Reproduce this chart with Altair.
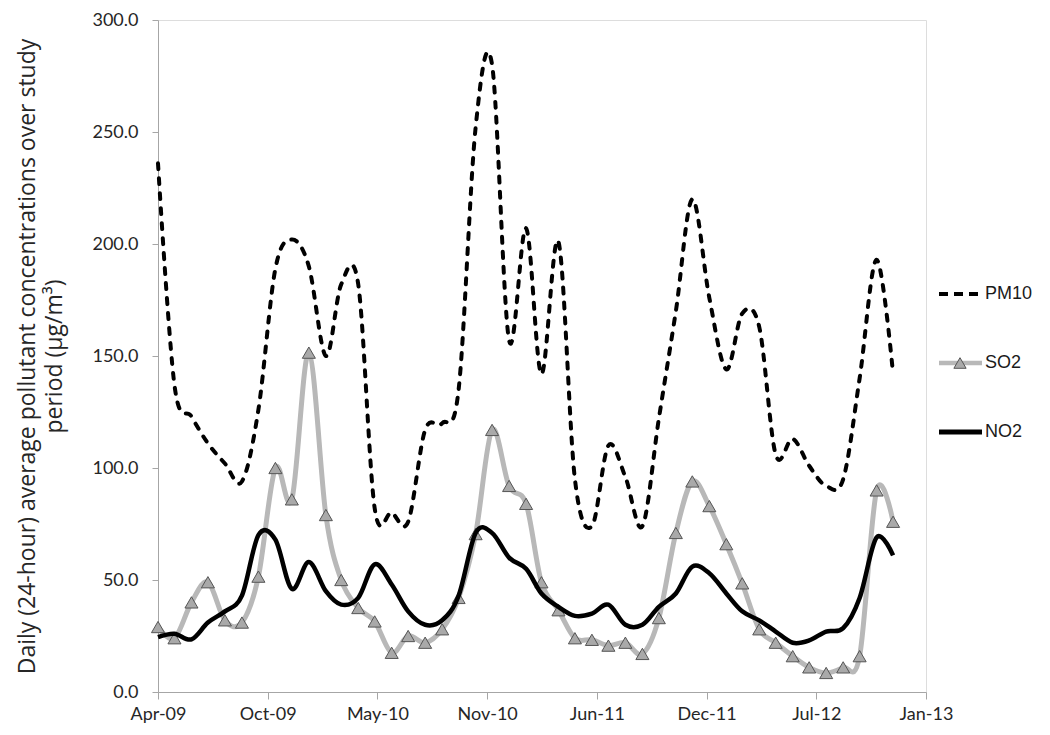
import altair as alt
import pandas as pd

# ---- data (monthly, Apr-2009 .. Dec-2012) ----
start_month = "2009-04-01"
n_months = 45
series_names = ["PM10", "SO2", "NO2"]

pm10 = [236, 137, 123, 111, 102, 94, 126, 189, 202, 190,
        150, 182, 182, 82, 80, 76, 117, 120, 135, 252,
        280, 157, 207, 142, 201, 95, 74, 110, 96, 74,
        122, 170, 220, 176, 144, 169, 163, 106, 113, 101,
        92, 95, 140, 193, 142]
so2 = [29, 24, 40, 49, 32, 31, 51.5, 100, 86, 151.5,
       79, 50, 37.5, 31.5, 17.5, 25, 22, 28, 42, 70.5,
       117, 92, 84, 49, 36.5, 24, 23.3, 20.7, 22, 17,
       33, 71, 94, 83, 66, 48.5, 28, 22, 16, 11,
       8.5, 11, 16, 90, 76]
no2 = [24.5, 26, 23.5, 31, 36, 43, 70, 68, 46, 58,
       45, 39, 42, 57, 48, 36, 30, 32, 43, 71,
       71, 60, 55, 44, 38, 34, 35, 39, 30, 30,
       38, 44, 56, 53, 44, 36, 32, 27, 22, 23,
       27, 28.5, 42, 69, 61]

y_ticks = [0, 50, 100, 150, 200, 250, 300]
tick_step_days = 200
n_x_ticks = 8

# ---- tables ----
months = pd.date_range(start_month, periods=n_months, freq="MS")
df = pd.DataFrame({"date": months.strftime("%Y-%m-%d"),
                   "PM10": pm10, "SO2": so2, "NO2": no2})
long = df.melt("date", var_name="series", value_name="value")

tick_dates = pd.date_range(start_month, periods=n_x_ticks, freq=f"{tick_step_days}D")
tick_ms = [int(t.value // 10**6) for t in tick_dates]

W, H = 768, 672
label_font = "Lato"

x_enc = alt.X(
    "date:T",
    scale=alt.Scale(type="utc", domain=[tick_ms[0], tick_ms[-1]]),
    axis=alt.Axis(values=tick_ms, format="%b-%y", title=None, grid=False,
                  domainColor="#a6a6a6", tickColor="#a6a6a6", tickSize=7,
                  labelPadding=6, labelFont=label_font, labelFontSize=18,
                  labelColor="#262626", labelFlush=False),
)
y_enc = alt.Y(
    "value:Q",
    scale=alt.Scale(domain=[0, 300], nice=False),
    axis=alt.Axis(values=y_ticks, format=".1f", grid=False,
                  title=["Daily (24-hour) average pollutant concentrations over study",
                         "period  (µg/m³)"],
                  titleFont="Open Sans", titleFontSize=23, titleFontWeight="normal",
                  titleColor="#262626", titleLineHeight=27, titlePadding=25,
                  domainColor="#a6a6a6", tickColor="#a6a6a6", tickSize=6,
                  labelPadding=14, labelFont=label_font, labelFontSize=18,
                  labelColor="#262626"),
)

base = alt.Chart(long).encode(x=x_enc, y=y_enc)

pm_line = base.transform_filter(alt.datum.series == "PM10").mark_line(
    color="black", strokeWidth=4, strokeDash=[6, 9], strokeCap="round",
    interpolate="cardinal")
so2_line = base.transform_filter(alt.datum.series == "SO2").mark_line(
    color="#b8b8b8", strokeWidth=5, interpolate="cardinal")
so2_pts = base.transform_filter(alt.datum.series == "SO2").mark_point(
    shape="triangle-up", filled=True, fill="#a9a9a9", stroke="#555555",
    strokeWidth=1, size=170, opacity=1)
no2_line = base.transform_filter(alt.datum.series == "NO2").mark_line(
    color="black", strokeWidth=4.5, interpolate="cardinal")

main = alt.layer(pm_line, so2_line, so2_pts, no2_line)

# ---- legend (drawn as a small layer to the right of the plot) ----
leg_df = pd.DataFrame({"series": series_names})
leg_y = alt.Y("series:N", sort=series_names,
              scale=alt.Scale(type="point", domain=series_names, range=[274, 412], padding=0),
              axis=None)
leg_base = alt.Chart(leg_df).encode(y=leg_y)
leg_rule = leg_base.mark_rule(strokeCap="butt").encode(
    x=alt.value(W + 13), x2=alt.value(W + 56),
    color=alt.Color("series:N", scale=alt.Scale(domain=series_names,
                                                range=["black", "#b8b8b8", "black"]), legend=None),
    strokeDash=alt.StrokeDash("series:N", scale=alt.Scale(domain=series_names,
                                                          range=[[9, 6], [1, 0], [1, 0]]), legend=None),
    strokeWidth=alt.StrokeWidth("series:N", scale=alt.Scale(domain=series_names,
                                                            range=[4, 5, 4.5]), legend=None),
)
leg_pt = leg_base.transform_filter(alt.datum.series == "SO2").mark_point(
    shape="triangle-up", filled=True, fill="#a9a9a9", stroke="#555555",
    strokeWidth=1, size=150, opacity=1).encode(x=alt.value(W + 34))
leg_txt = leg_base.mark_text(align="left", baseline="middle", font="Liberation Sans",
                             fontSize=18, color="#1a1a1a").encode(
    x=alt.value(W + 59), text="series:N")
legend = alt.layer(leg_rule, leg_pt, leg_txt)

chart = alt.layer(main, legend).resolve_scale(y="independent").properties(
    width=W, height=H,
    padding={"left": 8, "top": 3, "right": 5, "bottom": 0},
).configure_view(stroke=None).configure(background="white")

chart.save("out.html", embed_options={"renderer": "svg", "actions": False})
